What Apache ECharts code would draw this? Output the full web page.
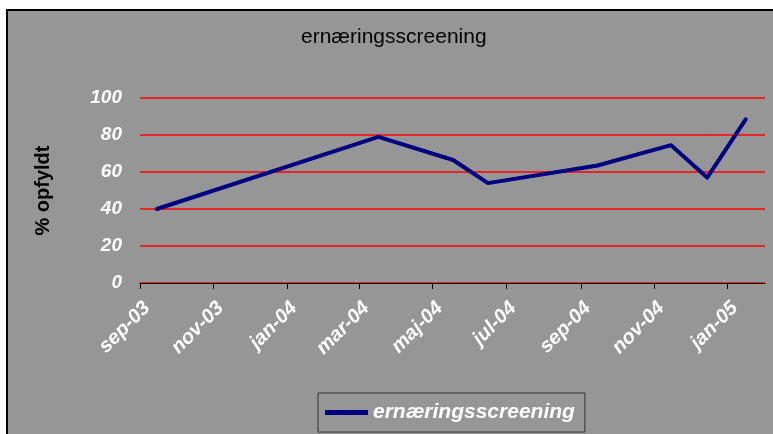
<!DOCTYPE html>
<html>
<head>
<meta charset="utf-8">
<script src="https://cdn.jsdelivr.net/npm/echarts@6/dist/echarts.min.js"></script>
<style>
html, body { margin: 0; padding: 0; background: #fff; }
#main { width: 773px; height: 434px; }
</style>
</head>
<body>
<div id="main"></div>
<script>
var seriesName = 'ernæringsscreening';
// mid-month measurements
var dates = ['2003-09-15', '2004-03-17', '2004-05-18', '2004-06-16', '2004-09-15', '2004-11-15', '2004-12-15', '2005-01-16'];
var values = [40, 79, 66.5, 54, 63.5, 74.5, 57, 88.5];
var tickDates = ['2003-09-01', '2003-11-01', '2004-01-01', '2004-03-01', '2004-05-01', '2004-07-01', '2004-09-01', '2004-11-01', '2005-01-01'];
var tickLabels = ['sep-03', 'nov-03', 'jan-04', 'mar-04', 'maj-04', 'jul-04', 'sep-04', 'nov-04', 'jan-05'];
var axisStart = '2003-09-01';
var axisEnd = '2005-02-01';

var font = '"Liberation Sans", Arial, sans-serif';
var dom = document.getElementById('main');
var myChart = echarts.init(dom);

function ts(d) { return echarts.time.parse(d).getTime(); }
var tickTimes = tickDates.map(ts);
var points = dates.map(function (d, i) { return [ts(d), values[i]]; });

var option = {
    animation: false,
    backgroundColor: '#fff',
    graphic: [{
        type: 'rect',
        z: -10,
        shape: { x: 7, y: 10, width: 800, height: 460 },
        style: { fill: '#969696', stroke: '#000', lineWidth: 2 }
    }],
    title: {
        text: 'ernæringsscreening',
        left: 301,
        top: 27,
        padding: 0,
        textStyle: { fontFamily: font, fontSize: 21, fontWeight: 'normal', color: '#000' }
    },
    legend: {
        left: 318,
        top: 393,
        padding: [9, 10, 9, 7],
        borderColor: '#333',
        borderWidth: 1,
        itemWidth: 43,
        itemHeight: 5,
        icon: 'rect',
        textStyle: { fontFamily: font, fontSize: 21, fontWeight: 'bold', fontStyle: 'italic', color: '#fff' },
        data: [seriesName]
    },
    grid: { left: 140, right: 8, top: 98, bottom: 151 },
    xAxis: {
        type: 'value',
        min: ts(axisStart),
        max: ts(axisEnd),
        axisLine: { show: true, onZero: false, lineStyle: { color: '#000', width: 1 } },
        axisTick: { show: true, length: 6, lineStyle: { color: '#000' }, customValues: tickTimes },
        splitLine: { show: false },
        axisLabel: {
            customValues: tickTimes,
            rotate: 45,
            margin: 15,
            align: 'right',
            verticalAlign: 'top',
            color: '#fff',
            fontFamily: font,
            fontSize: 20,
            fontWeight: 'bold',
            fontStyle: 'italic',
            formatter: function (val) {
                var i = tickTimes.indexOf(val);
                return i >= 0 ? tickLabels[i] : '';
            }
        }
    },
    yAxis: {
        type: 'value',
        min: 0,
        max: 100,
        interval: 20,
        name: '% opfyldt',
        nameLocation: 'middle',
        nameGap: 87,
        nameTextStyle: { fontFamily: font, fontSize: 20, fontWeight: 'bold', color: '#000' },
        axisLine: { show: false },
        axisTick: { show: false },
        axisLabel: {
            margin: 18,
            color: '#fff',
            fontFamily: font,
            fontSize: 19,
            fontWeight: 'bold',
            fontStyle: 'italic'
        },
        splitLine: { show: true, lineStyle: { color: '#ff0000', width: 1.5 } }
    },
    series: [{
        name: seriesName,
        type: 'line',
        showSymbol: false,
        symbol: 'none',
        itemStyle: { color: '#000080' },
        lineStyle: { color: '#000080', width: 4, cap: 'round', join: 'round' },
        data: points
    }]
};

myChart.setOption(option);
</script>
</body>
</html>
